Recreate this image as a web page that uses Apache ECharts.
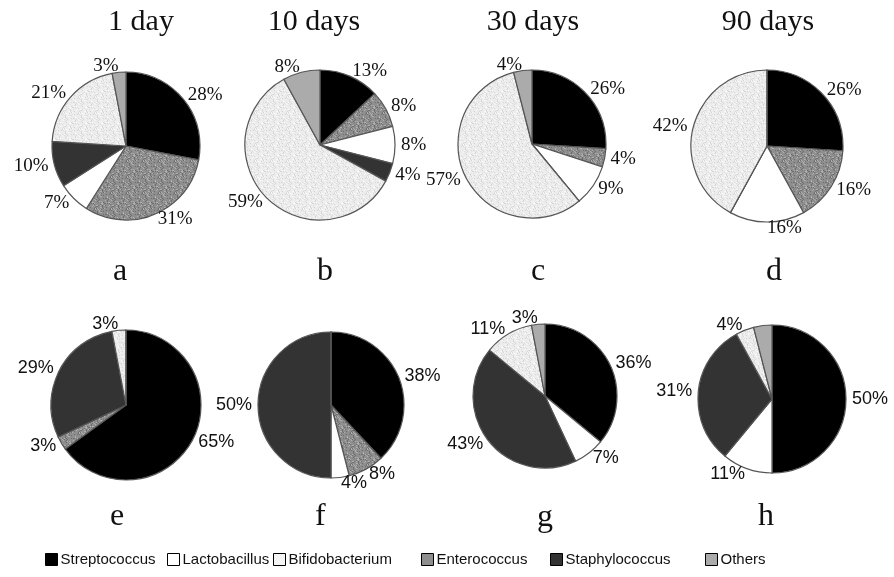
<!DOCTYPE html>
<html><head><meta charset="utf-8">
<script src="https://cdn.jsdelivr.net/npm/echarts@6/dist/echarts.min.js"></script>
<style>html,body{margin:0;padding:0;background:#fff}#c{width:894px;height:577px}</style>
</head><body><div id="c"></div>
<script>
// slice order clockwise from 12 o'clock
const categories = ['Streptococcus','Enterococcus','Lactobacillus','Staphylococcus','Bifidobacterium','Others'];
const legendOrder = ['Streptococcus','Lactobacillus','Bifidobacterium','Enterococcus','Staphylococcus','Others'];
const dayTitles = ['1 day','10 days','30 days','90 days'];
const panelLetters = ['a','b','c','d','e','f','g','h'];
const valuesA = [28,31,7,10,21,3];
const valuesB = [13,8,8,4,59,8];
const valuesC = [26,4,9,0,57,4];
const valuesD = [26,16,16,0,42,0];
const valuesE = [65,3,0,29,3,0];
const valuesF = [38,8,4,50,0,0];
const valuesG = [36,0,7,43,11,3];
const valuesH = [50,0,11,31,4,4];
const allValues = [valuesA,valuesB,valuesC,valuesD,valuesE,valuesF,valuesG,valuesH];

// stipple texture (deterministic hash) for the patterned slices
function stipple(base, dotA, dotB){
  const c = document.createElement('canvas'); c.width = 16; c.height = 16;
  const g = c.getContext('2d'); g.fillStyle = base; g.fillRect(0,0,16,16);
  for(let y=0;y<16;y++) for(let x=0;x<16;x++){
    const h = ((x*73856093) ^ (y*19349663)) >>> 0;
    const m = h % 7;
    if(m===0){ g.fillStyle = dotA; g.fillRect(x,y,1,1); }
    else if(m===3){ g.fillStyle = dotB; g.fillRect(x,y,1,1); }
  }
  return {image:c, repeat:'repeat'};
}
const colors = {
  Streptococcus:'#000000', Enterococcus:stipple('#8e8e8e','#6e6e6e','#b0b0b0'), Lactobacillus:'#ffffff',
  Staphylococcus:'#333333', Bifidobacterium:stipple('#ececec','#d8d8d8','#f8f8f8'), Others:'#ababab'
};
const legendColors = {
  Streptococcus:'#000000', Enterococcus:'#8e8e8e', Lactobacillus:'#ffffff',
  Staphylococcus:'#333333', Bifidobacterium:'#f4f4f4', Others:'#ababab'
};
const centers = [[126,146],[320,145],[532,144],[767,146],[126,405],[331,405],[545,396],[772,399]];
const radii = [74,75,74,76,75,73,72,74];
const titleX = [136,309,528,763];
const letterPos = [[123,276],[327,276],[541,276],[776,276],[120,521],[325,521],[547,522],[768,521]];
const legendX = [40,162,268,416,545,700];

const serif = '"Liberation Serif","Times New Roman",serif';
const sans = '"Liberation Sans",Arial,sans-serif';

const series = allValues.map((vals,i)=>({
  type:'pie', center:centers[i], radius:radii[i], startAngle:90, clockwise:true,
  animation:false, avoidLabelOverlap:false, legendHoverLink:false,
  itemStyle:{borderColor:'#555', borderWidth:1.2},
  label:{show:true, position:'outside', formatter:'{c}%', fontFamily: i<4?serif:sans,
         fontSize: i<4?19:18, color:'#111', distanceToLabelLine:0},
  labelLine:{show:false, length:6, length2:0},
  emphasis:{disabled:true},
  data: categories.map((n,k)=>({name:n, value:vals[k], itemStyle:{color:colors[n]},
        label:{show: vals[k]>0}}))
}));

const titles = dayTitles.map((t,i)=>({text:t, left:titleX[i], top:2, textAlign:'center',
  textStyle:{fontFamily:serif, fontSize:30, fontWeight:'normal', color:'#111'}}));
const letters = panelLetters.map((t,i)=>({type:'text', left:letterPos[i][0]-10, top:letterPos[i][1]-20,
  style:{text:t, font:'32px '+serif, fill:'#111'}}));

const legends = legendOrder.map((n,i)=>({data:[{name:n, itemStyle:{color:legendColors[n]}}], left:legendX[i], bottom:5,
  itemWidth:12, itemHeight:12, icon:'rect', itemGap:4, selectedMode:false,
  itemStyle:{borderColor:'#000', borderWidth:1},
  textStyle:{fontFamily:sans, fontSize:15, color:'#111', padding:[0,0,0,-2]}}));

const chart = echarts.init(document.getElementById('c'));
chart.setOption({backgroundColor:'#fff', title:titles, legend:legends, series:series, graphic:letters});
</script></body></html>
